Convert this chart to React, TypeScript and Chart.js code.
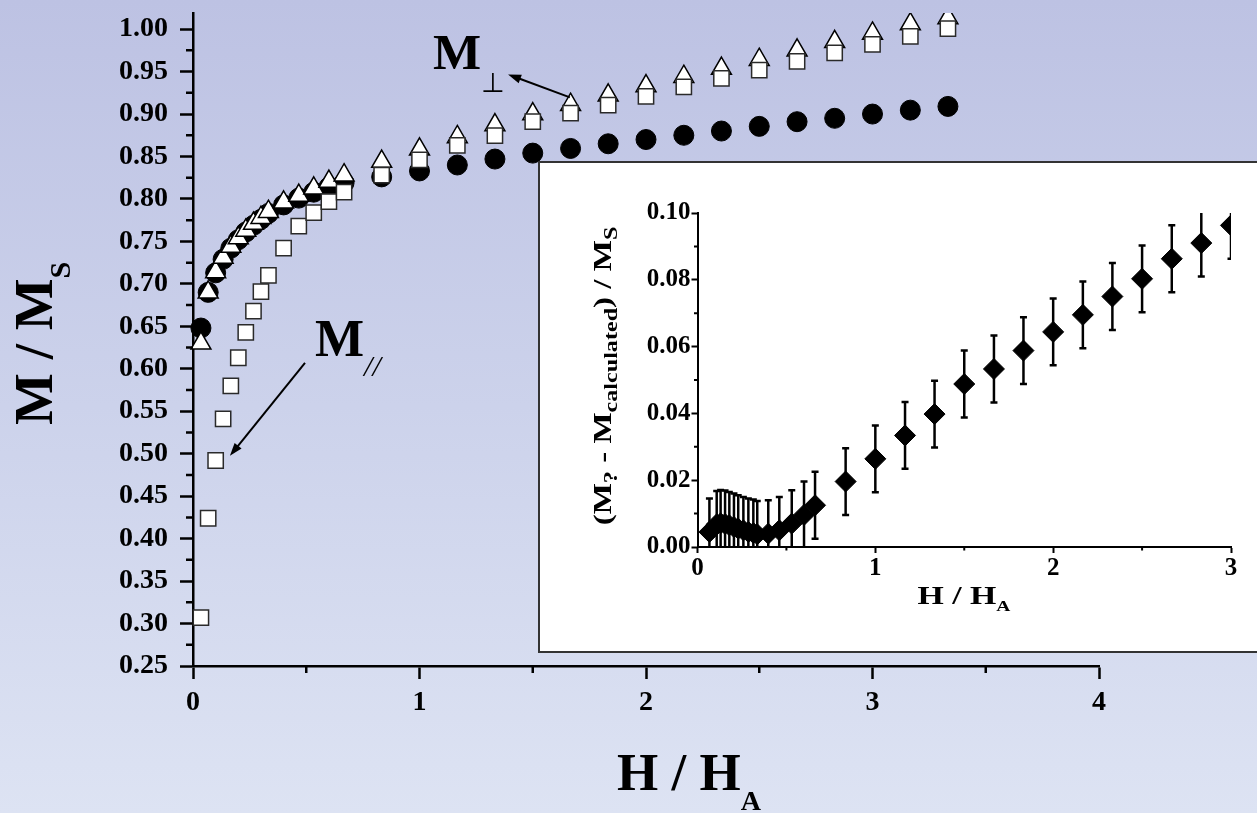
import React, { useEffect, useRef } from "react";
import { Chart, registerables } from "chart.js";

Chart.register(...registerables);

// ---------------- data ----------------
const H_MAIN = [0.035, 0.067, 0.1, 0.133, 0.167, 0.2, 0.233, 0.267, 0.3, 0.333, 0.4, 0.467, 0.533, 0.6, 0.667, 0.833, 1.0, 1.167, 1.333, 1.5, 1.667, 1.833, 2.0, 2.167, 2.333, 2.5, 2.667, 2.833, 3.0, 3.167, 3.333];
const M_CIRCLE = [0.648, 0.69, 0.713, 0.729, 0.742, 0.752, 0.761, 0.769, 0.776, 0.783, 0.793, 0.801, 0.808, 0.814, 0.819, 0.826, 0.833, 0.84, 0.847, 0.854, 0.8595, 0.865, 0.87, 0.875, 0.88, 0.8855, 0.891, 0.895, 0.9, 0.9046, 0.909];
const M_TRIANGLE = [0.63, 0.69, 0.714, 0.731, 0.744, 0.754, 0.763, 0.771, 0.778, 0.785, 0.796, 0.804, 0.8126, 0.8205, 0.828, 0.844, 0.8585, 0.873, 0.887, 0.9, 0.911, 0.922, 0.933, 0.944, 0.9536, 0.964, 0.975, 0.985, 0.995, 1.006, 1.013];
const M_SQUARE = [0.307, 0.424, 0.492, 0.541, 0.58, 0.613, 0.643, 0.668, 0.691, 0.71, 0.742, 0.768, 0.784, 0.797, 0.808, 0.828, 0.846, 0.863, 0.8745, 0.891, 0.901, 0.9105, 0.9207, 0.932, 0.942, 0.9516, 0.962, 0.972, 0.982, 0.9915, 1.0006];

const H_INSET = [0.067, 0.108, 0.13, 0.155, 0.179, 0.205, 0.229, 0.258, 0.286, 0.314, 0.336, 0.398, 0.46, 0.53, 0.599, 0.661, 0.833, 1.0, 1.167, 1.333, 1.5, 1.667, 1.833, 2.0, 2.167, 2.333, 2.5, 2.667, 2.833, 3.0];
const DM_INSET = [0.0045, 0.0068, 0.0071, 0.0069, 0.0065, 0.006, 0.0055, 0.005, 0.0045, 0.0042, 0.0038, 0.004, 0.005, 0.007, 0.0096, 0.0125, 0.0196, 0.0264, 0.0334, 0.0398, 0.0488, 0.0533, 0.0588, 0.0644, 0.0695, 0.075, 0.0803, 0.0863, 0.091, 0.0963];
const DM_ERR = [0.01, 0.01, 0.01, 0.01, 0.01, 0.01, 0.01, 0.01, 0.01, 0.01, 0.01, 0.01, 0.01, 0.01, 0.01, 0.01, 0.01, 0.01, 0.01, 0.01, 0.01, 0.01, 0.01, 0.01, 0.01, 0.01, 0.01, 0.01, 0.01, 0.01];

const MAIN_X_TICKS = [0, 1, 2, 3, 4];
const MAIN_X_MINOR = [0.5, 1.5, 2.5, 3.5];
const MAIN_Y_TICKS = [0.25, 0.3, 0.35, 0.4, 0.45, 0.5, 0.55, 0.6, 0.65, 0.7, 0.75, 0.8, 0.85, 0.9, 0.95, 1.0];
const MAIN_Y_MINOR = [0.275, 0.325, 0.375, 0.425, 0.475, 0.525, 0.575, 0.625, 0.675, 0.725, 0.775, 0.825, 0.875, 0.925, 0.975];
const INSET_X_TICKS = [0, 1, 2, 3];
const INSET_X_MINOR = [0.5, 1.5, 2.5];
const INSET_Y_TICKS = [0, 0.02, 0.04, 0.06, 0.08, 0.1];
const INSET_Y_MINOR = [0.01, 0.03, 0.05, 0.07, 0.09];

// ---------------- helpers ----------------
const SERIF = '"Liberation Serif", "Times New Roman", serif';

type Piece = { t: string; size: number; dy?: number; style?: string; weight?: string; family?: string };

function fontOf(p: Piece) {
  return `${p.style || "normal"} ${p.weight || "bold"} ${p.size}px ${p.family || SERIF}`;
}

function drawRich(
  ctx: CanvasRenderingContext2D,
  pieces: Piece[],
  x: number,
  y: number,
  opts: { rotate?: boolean; center?: boolean; stretch?: number } = {}
) {
  ctx.save();
  ctx.translate(x, y);
  if (opts.rotate) ctx.rotate(-Math.PI / 2);
  ctx.scale(opts.stretch || 1, 1);
  ctx.fillStyle = "#000";
  ctx.textAlign = "left";
  ctx.textBaseline = "alphabetic";
  const widths = pieces.map((p) => {
    ctx.font = fontOf(p);
    return ctx.measureText(p.t).width;
  });
  const total = widths.reduce((a, b) => a + b, 0);
  let cx = opts.center ? -total / 2 : 0;
  pieces.forEach((p, i) => {
    ctx.font = fontOf(p);
    ctx.fillText(p.t, cx, p.dy || 0);
    cx += widths[i];
  });
  ctx.restore();
}

function drawArrow(ctx: CanvasRenderingContext2D, x1: number, y1: number, x2: number, y2: number) {
  const ang = Math.atan2(y2 - y1, x2 - x1);
  const L = 13;
  const W = 4.5;
  ctx.save();
  ctx.strokeStyle = "#000";
  ctx.fillStyle = "#000";
  ctx.lineWidth = 2;
  ctx.beginPath();
  ctx.moveTo(x1, y1);
  ctx.lineTo(x2 - Math.cos(ang) * (L - 2), y2 - Math.sin(ang) * (L - 2));
  ctx.stroke();
  ctx.beginPath();
  ctx.moveTo(x2, y2);
  ctx.lineTo(x2 - Math.cos(ang) * L - Math.sin(ang) * W, y2 - Math.sin(ang) * L + Math.cos(ang) * W);
  ctx.lineTo(x2 - Math.cos(ang) * L + Math.sin(ang) * W, y2 - Math.sin(ang) * L - Math.cos(ang) * W);
  ctx.closePath();
  ctx.fill();
  ctx.restore();
}

function minorTicks(id: string, specs: { axis: "x" | "y"; values: number[]; len: number; width: number }[]) {
  return {
    id,
    afterDraw(chart: any) {
      const ctx: CanvasRenderingContext2D = chart.ctx;
      const area = chart.chartArea;
      specs.forEach((s) => {
        const sc = chart.scales[s.axis];
        ctx.save();
        ctx.strokeStyle = "#000";
        ctx.lineWidth = s.width;
        ctx.beginPath();
        s.values.forEach((v) => {
          const p = sc.getPixelForValue(v);
          if (s.axis === "x") {
            ctx.moveTo(p, area.bottom);
            ctx.lineTo(p, area.bottom + s.len);
          } else {
            ctx.moveTo(area.left, p);
            ctx.lineTo(area.left - s.len, p);
          }
        });
        ctx.stroke();
        ctx.restore();
      });
    },
  };
}

const mainAnnotations = {
  id: "mainAnnotations",
  afterDraw(chart: any) {
    const ctx: CanvasRenderingContext2D = chart.ctx;
    const xs = chart.scales.x;
    const ys = chart.scales.y;
    const area = chart.chartArea;
    // axis titles
    drawRich(ctx, [{ t: "M / M", size: 55 }, { t: "S", size: 30, dy: 18 }], area.left - 141, 425, { rotate: true });
    drawRich(ctx, [{ t: "H / H", size: 53 }, { t: "A", size: 28, dy: 20 }], 617, area.bottom + 124);
    // M perpendicular
    drawRich(
      ctx,
      [{ t: "M", size: 51 }, { t: "\u22A5", size: 27, dy: 23, weight: "normal", family: '"DejaVu Sans"' }],
      xs.getPixelForValue(1.06),
      ys.getPixelForValue(0.9525)
    );
    drawArrow(ctx, xs.getPixelForValue(1.664), ys.getPixelForValue(0.9197), xs.getPixelForValue(1.391), ys.getPixelForValue(0.9466));
    // M parallel
    drawRich(
      ctx,
      [{ t: "M", size: 52 }, { t: "//", size: 30, dy: 20, style: "italic", weight: "normal" }],
      xs.getPixelForValue(0.5386),
      ys.getPixelForValue(0.6148)
    );
    drawArrow(ctx, xs.getPixelForValue(0.4945), ys.getPixelForValue(0.6069), xs.getPixelForValue(0.163), ys.getPixelForValue(0.4975));
  },
};

const errorBars = {
  id: "errorBars",
  beforeDatasetsDraw(chart: any) {
    const ctx: CanvasRenderingContext2D = chart.ctx;
    const xs = chart.scales.x;
    const ys = chart.scales.y;
    const area = chart.chartArea;
    ctx.save();
    ctx.beginPath();
    ctx.rect(area.left, area.top, area.right - area.left, area.bottom - area.top);
    ctx.clip();
    ctx.strokeStyle = "#000";
    ctx.lineWidth = 2.5;
    H_INSET.forEach((h, i) => {
      const px = xs.getPixelForValue(h);
      const top = ys.getPixelForValue(DM_INSET[i] + DM_ERR[i]);
      const bot = ys.getPixelForValue(DM_INSET[i] - DM_ERR[i]);
      ctx.beginPath();
      ctx.moveTo(px, top);
      ctx.lineTo(px, bot);
      ctx.moveTo(px - 3.5, top);
      ctx.lineTo(px + 3.5, top);
      ctx.moveTo(px - 3.5, bot);
      ctx.lineTo(px + 3.5, bot);
      ctx.stroke();
    });
    ctx.restore();
  },
};

const insetAnnotations = {
  id: "insetAnnotations",
  afterDraw(chart: any) {
    const ctx: CanvasRenderingContext2D = chart.ctx;
    const area = chart.chartArea;
    drawRich(ctx, [{ t: "H / H", size: 26 }, { t: "A", size: 15, dy: 7 }], area.left + 220, area.bottom + 57, { stretch: 1.3 });
    drawRich(
      ctx,
      [
        { t: "(M", size: 26 },
        { t: "?", size: 19, dy: 6 },
        { t: " - M", size: 26 },
        { t: "calculated", size: 19, dy: 6 },
        { t: ") / M", size: 26 },
        { t: "S", size: 19, dy: 6 },
      ],
      area.left - 87,
      213,
      { rotate: true, center: true, stretch: 1.27 }
    );
  },
};

export default function App() {
  const mainRef = useRef<HTMLCanvasElement>(null);
  const insetRef = useRef<HTMLCanvasElement>(null);

  useEffect(() => {
    const tickFontMain = { family: SERIF, size: 28, weight: "bold" as const };
    const tickFontInset = { family: SERIF, size: 25, weight: "bold" as const };

    const main = new Chart(mainRef.current as HTMLCanvasElement, {
      type: "scatter",
      data: {
        datasets: [
          {
            label: "square",
            data: H_MAIN.map((h, i) => ({ x: h, y: M_SQUARE[i] })),
            pointStyle: "rect",
            pointRadius: 10.8,
            backgroundColor: "#ffffff",
            borderColor: "#2a2a2a",
            borderWidth: 1.5,
            order: 1,
            clip: { left: false, top: 0, right: false, bottom: false },
          } as any,
          {
            label: "triangle",
            data: H_MAIN.map((h, i) => ({ x: h, y: M_TRIANGLE[i] })),
            pointStyle: "triangle",
            pointRadius: 11.5,
            backgroundColor: "#ffffff",
            borderColor: "#000000",
            borderWidth: 1.5,
            order: 2,
            clip: { left: false, top: 0, right: false, bottom: false },
          } as any,
          {
            label: "circle",
            data: H_MAIN.map((h, i) => ({ x: h, y: M_CIRCLE[i] })),
            pointStyle: "circle",
            pointRadius: 10,
            backgroundColor: "#000000",
            borderColor: "#000000",
            borderWidth: 1,
            order: 3,
            clip: { left: false, top: 0, right: false, bottom: false },
          } as any,
        ],
      },
      options: {
        responsive: false,
        animation: false,
        devicePixelRatio: 1,
        events: [],
        layout: { padding: { top: 10, right: 158, bottom: 0, left: 0 } },
        plugins: { legend: { display: false }, tooltip: { enabled: false } },
        scales: {
          x: {
            type: "linear",
            min: 0,
            max: 4,
            afterBuildTicks: (s: any) => {
              s.ticks = MAIN_X_TICKS.map((v) => ({ value: v }));
            },
            afterFit: (s: any) => {
              s.height = 147;
              s.paddingLeft = 0;
              s.paddingRight = 0;
            },
            grid: { display: true, drawOnChartArea: false, drawTicks: true, tickLength: 13, tickWidth: 2.5, tickColor: "#000" },
            border: { display: true, color: "#000", width: 2.5 },
            ticks: { color: "#000", font: tickFontMain, padding: 7, maxRotation: 0, callback: (v: any) => String(v) },
          },
          y: {
            type: "linear",
            min: 0.25,
            max: 1.019,
            afterBuildTicks: (s: any) => {
              s.ticks = MAIN_Y_TICKS.map((v) => ({ value: v }));
            },
            afterFit: (s: any) => {
              s.width = 193;
              s.paddingTop = 0;
              s.paddingBottom = 0;
            },
            grid: { display: true, drawOnChartArea: false, drawTicks: true, tickLength: 13, tickWidth: 2.5, tickColor: "#000" },
            border: { display: true, color: "#000", width: 2.5 },
            ticks: { color: "#000", font: tickFontMain, padding: 12, callback: (v: any) => Number(v).toFixed(2) },
          },
        },
      } as any,
      plugins: [
        minorTicks("mainMinor", [
          { axis: "x", values: MAIN_X_MINOR, len: 7, width: 2.5 },
          { axis: "y", values: MAIN_Y_MINOR, len: 7, width: 2.5 },
        ]),
        mainAnnotations,
      ],
    });

    const inset = new Chart(insetRef.current as HTMLCanvasElement, {
      type: "scatter",
      data: {
        datasets: [
          {
            label: "difference",
            data: H_INSET.map((h, i) => ({ x: h, y: DM_INSET[i] })),
            pointStyle: "rectRot",
            pointRadius: 10.5,
            backgroundColor: "#000000",
            borderColor: "#000000",
            borderWidth: 1,
            clip: 0,
          } as any,
        ],
      },
      options: {
        responsive: false,
        animation: false,
        devicePixelRatio: 1,
        events: [],
        layout: { padding: { top: 50, right: 26, bottom: 0, left: 0 } },
        plugins: { legend: { display: false }, tooltip: { enabled: false } },
        scales: {
          x: {
            type: "linear",
            min: 0,
            max: 3,
            afterBuildTicks: (s: any) => {
              s.ticks = INSET_X_TICKS.map((v) => ({ value: v }));
            },
            afterFit: (s: any) => {
              s.height = 104;
              s.paddingLeft = 0;
              s.paddingRight = 0;
            },
            grid: { display: true, drawOnChartArea: false, drawTicks: true, tickLength: 6, tickWidth: 2, tickColor: "#000" },
            border: { display: true, color: "#000", width: 2 },
            ticks: { color: "#000", font: tickFontInset, padding: 1, maxRotation: 0, callback: (v: any) => String(v) },
          },
          y: {
            type: "linear",
            min: 0,
            max: 0.1,
            afterBuildTicks: (s: any) => {
              s.ticks = INSET_Y_TICKS.map((v) => ({ value: v }));
            },
            afterFit: (s: any) => {
              s.width = 157.5;
              s.paddingTop = 0;
              s.paddingBottom = 0;
            },
            grid: { display: true, drawOnChartArea: false, drawTicks: true, tickLength: 6, tickWidth: 2, tickColor: "#000" },
            border: { display: true, color: "#000", width: 2 },
            ticks: { color: "#000", font: tickFontInset, padding: 1, callback: (v: any) => Number(v).toFixed(2) },
          },
        },
      } as any,
      plugins: [
        errorBars,
        minorTicks("insetMinor", [
          { axis: "x", values: INSET_X_MINOR, len: 3.5, width: 2 },
          { axis: "y", values: INSET_Y_MINOR, len: 3.5, width: 2 },
        ]),
        insetAnnotations,
      ],
    });

    return () => {
      main.destroy();
      inset.destroy();
    };
  }, []);

  return (
    <div
      style={{
        position: "fixed",
        left: 0,
        top: 0,
        width: 1257,
        height: 813,
        overflow: "hidden",
        background: "linear-gradient(to bottom, rgb(189,194,227) 0%, rgb(204,210,235) 50%, rgb(221,227,243) 100%)",
      }}
    >
      <canvas ref={mainRef} width={1257} height={813} style={{ position: "absolute", left: 0, top: 0 }} />
      <div
        style={{
          position: "absolute",
          left: 538,
          top: 161,
          width: 740,
          height: 492,
          background: "#ffffff",
          border: "2px solid #333",
          boxSizing: "border-box",
        }}
      />
      <canvas ref={insetRef} width={717} height={488} style={{ position: "absolute", left: 540, top: 163 }} />
    </div>
  );
}
